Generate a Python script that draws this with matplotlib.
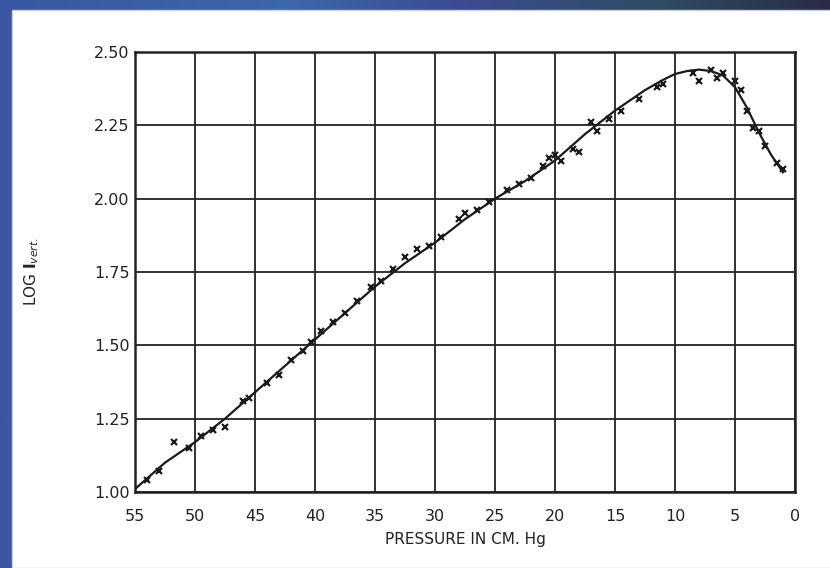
import numpy as np
import matplotlib
matplotlib.use('Agg')
import matplotlib.pyplot as plt
from matplotlib.colors import LinearSegmentedColormap
from matplotlib.patches import Rectangle

# smooth curve through the measurements (pressure in cm Hg, log I)
curve_p = [55, 52.5, 50, 47.5, 45, 42.5, 40, 37.5, 35, 32.5, 30, 27.5, 25, 22.5,
           20, 17.5, 15, 12.5, 11, 10, 9, 8, 7, 6, 5, 4, 3, 2, 1]
curve_log = [1.01, 1.10, 1.17, 1.25, 1.34, 1.43, 1.52, 1.61, 1.70, 1.78, 1.85, 1.93,
             2.00, 2.06, 2.13, 2.22, 2.30, 2.37, 2.405, 2.425, 2.435, 2.44, 2.435,
             2.42, 2.38, 2.31, 2.225, 2.15, 2.09]

# measured points
pts_p = [54, 53, 51.75, 50.5, 49.5, 48.5, 47.5, 46, 45.5, 44, 43, 42, 41, 40.3,
         39.5, 38.5, 37.5, 36.5, 35.3, 34.5, 33.5, 32.5, 31.5, 30.5, 29.5, 28, 27.5,
         26.5, 25.5, 24, 23, 22, 21, 20.5, 20, 19.5, 18.5, 18, 17, 16.5, 15.5, 14.5,
         13, 11.5, 11, 8.5, 8, 7, 6.5, 6, 5, 4.5, 4, 3.5, 3, 2.5, 1.5, 1.0]
pts_log = [1.04, 1.07, 1.17, 1.15, 1.19, 1.21, 1.22, 1.31, 1.32, 1.37, 1.40, 1.45,
           1.48, 1.51, 1.55, 1.58, 1.61, 1.65, 1.70, 1.72, 1.76, 1.80, 1.83, 1.84,
           1.87, 1.93, 1.95, 1.96, 1.99, 2.03, 2.05, 2.07, 2.11, 2.14, 2.15, 2.13,
           2.17, 2.16, 2.26, 2.23, 2.27, 2.30, 2.34, 2.38, 2.39, 2.43, 2.40, 2.44,
           2.41, 2.43, 2.40, 2.37, 2.30, 2.24, 2.23, 2.18, 2.12, 2.10]

xticks = [55, 50, 45, 40, 35, 30, 25, 20, 15, 10, 5, 0]
yticks = [1.00, 1.25, 1.50, 1.75, 2.00, 2.25, 2.50]
ytick_labels = ['1.00', '1.25', '1.50', '1.75', '2.00', '2.25', '2.50']

W, H = 830, 568
fig = plt.figure(figsize=(W / 100, H / 100), dpi=100)

# blue gradient backdrop + white page
bg = fig.add_axes([0, 0, 1, 1])
bg.set_axis_off()
cmap = LinearSegmentedColormap.from_list('bg', [
    (0.0, '#3a56a4'), (0.35, '#3d68aa'), (0.55, '#3c4c92'),
    (0.8, '#2f4c63'), (1.0, '#2a2c46')])
grad = np.linspace(0, 1, 400).reshape(1, -1)
bg.imshow(grad, aspect='auto', cmap=cmap, extent=[0, 1, 0, 1])
bg.add_patch(Rectangle((12 / W, 0), 1, 1 - 10 / H, facecolor='white',
                       edgecolor='#c8d0e0', lw=1.0, transform=bg.transAxes))
bg.set_xlim(0, 1)
bg.set_ylim(0, 1)

ax = fig.add_axes([135 / W, (H - 492) / H, (795 - 135) / W, (492 - 52) / H])
ax.set_facecolor('none')
ax.plot(curve_p, curve_log, color='#1a1a1a', lw=1.6, zorder=3)
ax.plot(pts_p, pts_log, 'x', color='#1a1a1a', ms=4, mew=1.6, zorder=4)

ax.set_xlim(55, 0)
ax.set_ylim(1.0, 2.5)
ax.set_xticks(xticks)
ax.set_xticklabels([str(t) for t in xticks])
ax.set_yticks(yticks)
ax.set_yticklabels(ytick_labels)
ax.tick_params(length=0, labelsize=11.5, colors='#222222')
ax.tick_params(axis='x', pad=12)
ax.tick_params(axis='y', pad=4)
ax.grid(True, color='#222222', lw=1.3)
for s in ax.spines.values():
    s.set_color('#222222')
    s.set_linewidth(1.8)

ax.set_xlabel('PRESSURE IN CM. Hg', fontsize=11, color='#222222', labelpad=6)
ax.set_ylabel(r'LOG $\mathbf{I}_{\it vert.}$', fontsize=11, color='#222222', labelpad=38)

fig.savefig('out.png', dpi=100)
